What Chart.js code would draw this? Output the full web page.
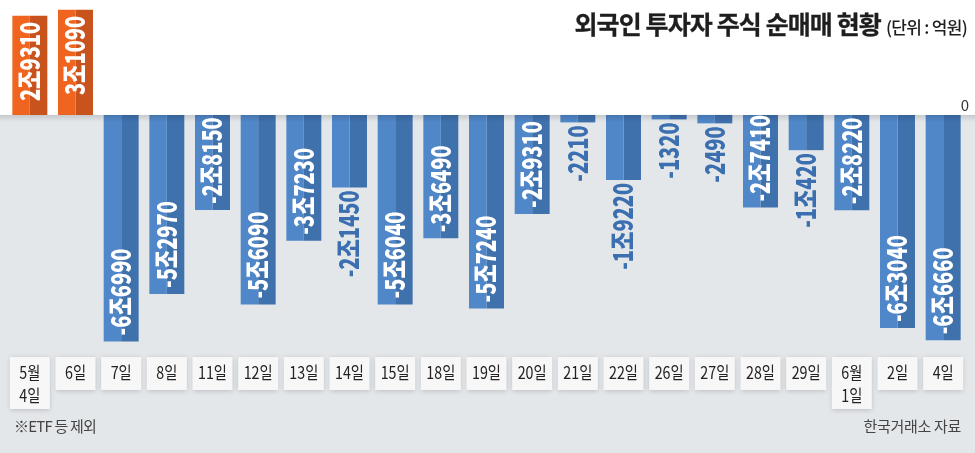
<!DOCTYPE html>
<html><head><meta charset="utf-8">
<script src="https://cdn.jsdelivr.net/npm/chart.js@4.4.1/dist/chart.umd.min.js"></script>
<style>
html,body{margin:0;padding:0;background:#e4e7ea;}
#wrap{position:relative;width:975px;height:453px;overflow:hidden;}
canvas{position:absolute;left:0;top:0;}
.t{position:absolute;white-space:nowrap;font-family:"Noto Sans CJK KR","Noto Sans",sans-serif;color:#1e1e1e;}
</style></head><body>
<div id="wrap">
<canvas id="c" width="975" height="453"></canvas>
<div class="t" id="title" style="right:8px;top:5px;"><span style="font-size:25px;font-weight:700;letter-spacing:-0.9px;-webkit-text-stroke:0.3px #1e1e1e">외국인 투자자 주식 순매매 현황</span><span style="font-size:17px;margin-left:5px;letter-spacing:-0.7px;font-weight:500">(단위 : 억원)</span></div>
<div class="t" id="zero" style="right:6px;top:94px;font-size:15px;color:#333;">0</div>
<div class="t" id="note" style="left:14px;top:415px;font-size:15px;color:#444;letter-spacing:-0.8px">※ETF 등 제외</div>
<div class="t" id="src" style="right:14px;top:415px;font-size:15px;color:#444;letter-spacing:-0.3px">한국거래소 자료</div>
</div>
<script>
// ---- data (억원) ----
const categories = [['5월','4일'],['6일'],['7일'],['8일'],['11일'],['12일'],['13일'],['14일'],['15일'],['18일'],['19일'],['20일'],['21일'],['22일'],['26일'],['27일'],['28일'],['29일'],['6월','1일'],['2일'],['4일']];
const netBuy = [29310, 31090, -66990, -52970, -28150, -56090, -37230, -21450, -56040, -36490, -57240, -29310, -2210, -19220, -1320, -2490, -27410, -10420, -28220, -63040, -66660];
const yMin = -100000, yMax = 34000;

const fmt = v => { const a = Math.abs(v), s = v < 0 ? '-' : ''; const jo = Math.floor(a/10000), r = a % 10000; return s + (jo > 0 ? jo + '조' + (r > 0 ? r : '') : r); };

const LIGHT_POS = '#ef6520', DARK_POS = '#c9531d', LIGHT_NEG = '#5087c8', DARK_NEG = '#3f71ad';
const SX = 0.74, FS = 27;

const bgPlugin = {
  id: 'bg',
  beforeDraw(chart){
    const ctx = chart.ctx, W = chart.width, H = chart.height;
    const zy = chart.scales.y.getPixelForValue(0);
    ctx.save();
    ctx.fillStyle = '#e4e7ea'; ctx.fillRect(0,0,W,H);
    ctx.fillStyle = '#ffffff'; ctx.fillRect(0,0,W,zy);
    ctx.restore();
  },
  afterDatasetsDraw(chart){
    const ctx = chart.ctx, W = chart.width;
    const zy = chart.scales.y.getPixelForValue(0);
    ctx.save();
    const g = ctx.createLinearGradient(0, zy, 0, zy+7);
    g.addColorStop(0,'rgba(0,0,0,0.13)'); g.addColorStop(1,'rgba(0,0,0,0)');
    ctx.fillStyle = g; ctx.fillRect(0, zy, W, 7);
    ctx.restore();
    // value labels
    const m0 = chart.getDatasetMeta(0), m1 = chart.getDatasetMeta(1);
    netBuy.forEach((v,i) => {
      const b0 = m0.data[i], b1 = m1.data[i];
      const cx = (b0.x + b1.x)/2, end = b0.y, len = Math.abs(b0.y - b0.base);
      const txt = fmt(v);
      ctx.save();
      ctx.font = '900 ' + FS + 'px "Noto Sans CJK KR"';
      const w = ctx.measureText(txt).width * SX;
      const inside = len >= w + 4;
      const pad = inside ? 6 : 3;
      ctx.translate(cx, end);
      ctx.rotate(-Math.PI/2);
      ctx.scale(SX, 1);
      ctx.textBaseline = 'alphabetic';
      ctx.fillStyle = inside ? '#ffffff' : '#3b6fb0';
      const yOff = FS*0.733/2;
      const up = (v < 0) === inside;
      let x;
      if (up){ ctx.textAlign = 'left'; x = pad/SX; }
      else { ctx.textAlign = 'right'; x = -pad/SX; }
      ctx.fillText(txt, x, yOff);
      ctx.restore();
    });
    // category boxes
    categories.forEach((lab,i) => {
      const cx = (m0.data[i].x + m1.data[i].x)/2;
      const top = 357, h = lab.length > 1 ? 52 : 33;
      ctx.save();
      ctx.shadowColor = 'rgba(0,0,0,0.18)'; ctx.shadowBlur = 5; ctx.shadowOffsetY = 1;
      ctx.fillStyle = '#f7f7f7';
      ctx.fillRect(cx-20, top, 40, h);
      ctx.restore();
      ctx.save();
      ctx.font = '400 17px "Noto Sans CJK KR"';
      ctx.fillStyle = '#222';
      ctx.textAlign = 'center'; ctx.textBaseline = 'middle';
      ctx.translate(cx, 0); ctx.scale(0.84, 1);
      lab.forEach((s,k) => ctx.fillText(s, 0, 373 + k*23));
      ctx.restore();
    });
  }
};

new Chart(document.getElementById('c'), {
  type: 'bar',
  data: {
    labels: categories,
    datasets: [
      { data: netBuy, backgroundColor: c => c.raw >= 0 ? LIGHT_POS : LIGHT_NEG, borderWidth: 0 },
      { data: netBuy, backgroundColor: c => c.raw >= 0 ? DARK_POS : DARK_NEG, borderWidth: 0 }
    ]
  },
  options: {
    responsive: false, animation: false,
    layout: { padding: { left: 7, right: 9, top: 0, bottom: 0 } },
    datasets: { bar: { categoryPercentage: 0.766, barPercentage: 1.0 } },
    scales: {
      x: { display: false, grid: { display: false } },
      y: { display: false, min: yMin, max: yMax, grid: { display: false } }
    },
    plugins: { legend: { display: false }, tooltip: { enabled: false }, title: { display: false } }
  },
  plugins: [bgPlugin]
});
</script>
</body></html>
